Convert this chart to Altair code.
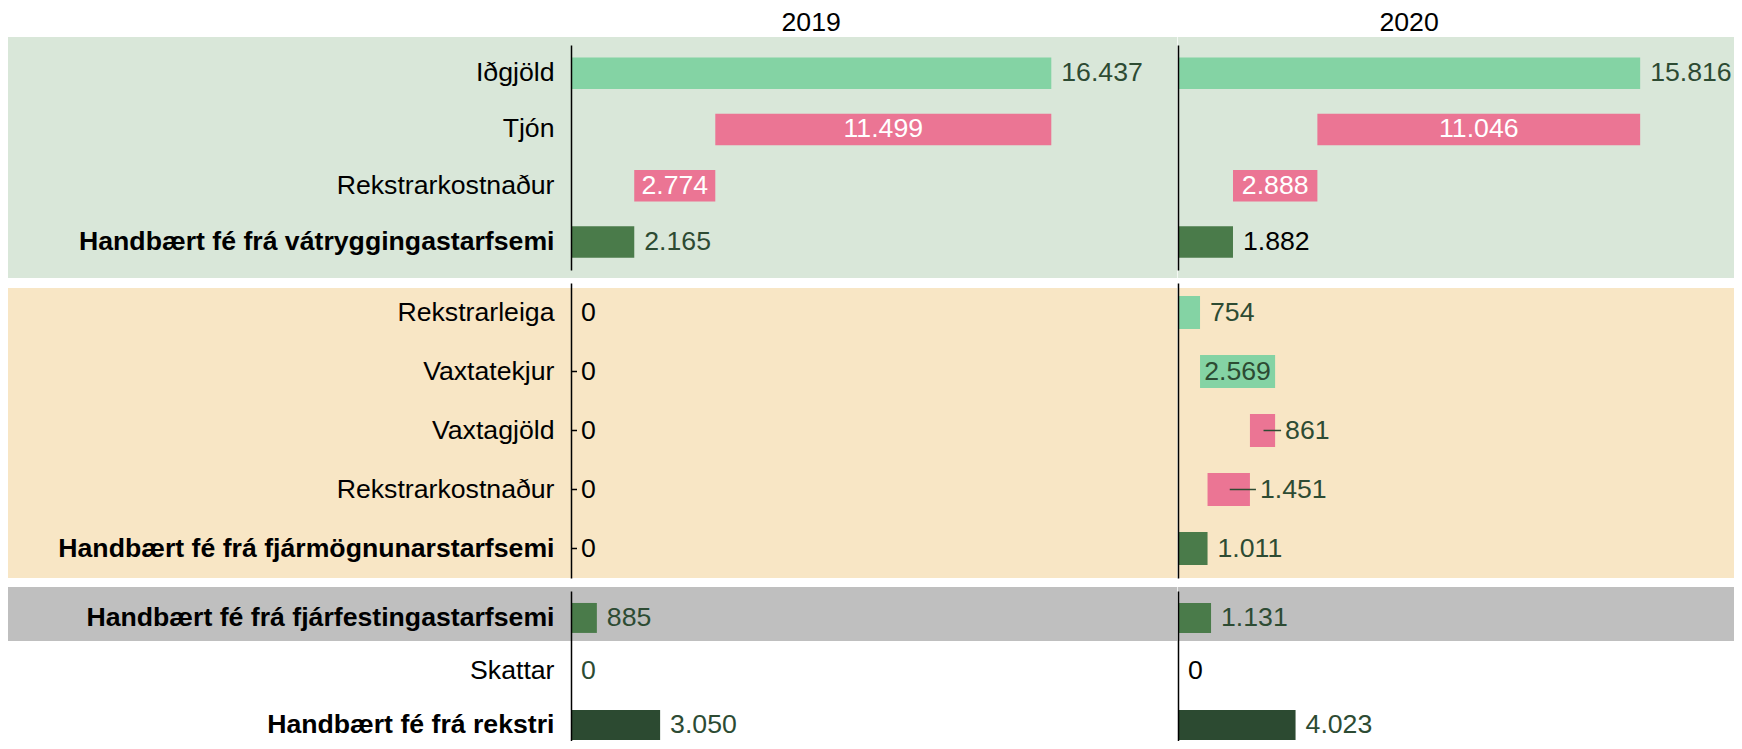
import altair as alt
import pandas as pd

# ---------------- data ----------------
ITEMS = [
    "Iðgjöld", "Tjón", "Rekstrarkostnaður", "Handbært fé frá vátryggingastarfsemi",
    "Rekstrarleiga", "Vaxtatekjur", "Vaxtagjöld", "Rekstrarkostnaður",
    "Handbært fé frá fjármögnunarstarfsemi",
    "Handbært fé frá fjárfestingastarfsemi", "Skattar", "Handbært fé frá rekstri",
]
GROUPS = [1, 1, 1, 1, 2, 2, 2, 2, 2, 3, 3, 3]
KINDS = ["inn", "út", "út", "sub", "inn", "inn", "út", "út", "sub", "sub", "út", "total"]
YEARS = ["2019", "2020"]
VALUES_2019 = [16437, 11499, 2774, 2165, 0, 0, 0, 0, 0, 885, 0, 3050]
VALUES_2020 = [15816, 11046, 2888, 1882, 754, 2569, 861, 1451, 1011, 1131, 0, 4023]
LABEL_POS_2019 = ["out", "in", "in", "out", "out", "lead", "lead", "lead", "lead", "out", "out", "out"]
LABEL_POS_2020 = ["out", "in", "in", "out", "out", "in", "lead", "lead", "out", "out", "out", "out"]
LABEL_TONE_2019 = ["dark", "white", "white", "dark", "black", "black", "black", "black", "black", "dark", "dark", "dark"]
LABEL_TONE_2020 = ["dark", "white", "white", "black", "dark", "dark", "dark", "dark", "dark", "dark", "black", "dark"]

VALUES = {"2019": VALUES_2019, "2020": VALUES_2020}
LABEL_POS = {"2019": LABEL_POS_2019, "2020": LABEL_POS_2020}
LABEL_TONE = {"2019": LABEL_TONE_2019, "2020": LABEL_TONE_2020}

recs = []
for year in YEARS:
    cum = 0
    for item, g, kind, v, pos, tone in zip(ITEMS, GROUPS, KINDS, VALUES[year],
                                            LABEL_POS[year], LABEL_TONE[year]):
        if kind in ("sub", "total"):
            s, e = 0, v
            cum = 0
        elif kind == "inn":
            s, e = cum, cum + v
            cum = e
        else:
            s, e = cum, cum - v
            cum = e
        recs.append(dict(year=year, grp=g, item=item, kind=kind, value=v,
                         start=s, end=e, lo=min(s, e), hi=max(s, e), mid=(s + e) / 2,
                         label=f"{v:,}".replace(",", "."), pos=pos, tone=tone))
df = pd.DataFrame(recs)

# ---------------- styling ----------------
FS = 26.67
FONT = "Liberation Sans"
PX_PER_UNIT = 480.3 / 16437
XMAX = {y: float(df[df.year == y].hi.max()) for y in YEARS}
WIDTH = {y: XMAX[y] * PX_PER_UNIT for y in YEARS}
HEIGHT = {1: 225, 2: 295, 3: 150}
YSCALE = {
    1: dict(paddingInner=0.44, paddingOuter=0.22),
    2: dict(paddingInner=0.44, paddingOuter=0.22),
    3: dict(paddingInner=0.44, paddingOuter=0.1215, align=0.92),
}
BAND = {  # colour, top, bottom (relative to panel)
    1: ("#D9E7D9", -8, HEIGHT[1] + 8),
    2: ("#F8E6C5", 5, HEIGHT[2]),
    3: ("#BFBFBF", -4, 50),
}
KIND_SCALE = alt.Scale(domain=["inn", "út", "sub", "total"],
                       range=["#84D3A4", "#EB7594", "#4A7B4A", "#2C4A31"])
TONE_SCALE = alt.Scale(domain=["dark", "white", "black"],
                       range=["#2D4B33", "#FFFFFF", "#000000"])

LABEL_AXIS = alt.Axis(
    title=None, labelFontSize=FS, labelColor="black", labelPadding=17, labelFont=FONT,
    ticks=False, domain=True, domainColor="black", domainWidth=1.5, labelLimit=1000,
    zindex=1,
    labelFontWeight={"condition": {"test": "indexof(datum.label, 'Handbært') === 0",
                                   "value": "bold"}, "value": "normal"},
)
PLAIN_AXIS = alt.Axis(title=None, labels=False, ticks=False, domain=True,
                      domainColor="black", domainWidth=1.5, zindex=1)


def panel(year, g):
    d = df[(df.year == year) & (df.grp == g)]
    order = list(d.item)
    W, H = WIDTH[year], HEIGHT[g]
    xs = alt.Scale(domain=[0, XMAX[year]], nice=False, zero=True)
    ys = alt.Scale(domain=order, **YSCALE[g])
    yenc = alt.Y("item:N", scale=ys, sort=order,
                 axis=LABEL_AXIS if year == YEARS[0] else PLAIN_AXIS)
    base = alt.Chart(d)
    layers = []

    col, top, bottom = BAND[g]
    x0 = -563 if year == YEARS[0] else 0
    x1 = W + 126 if year == YEARS[0] else 556
    layers.append(
        alt.Chart(pd.DataFrame({"grp": [g]})).mark_rect(color=col).encode(
            x=alt.value(x0), x2=alt.value(x1), y=alt.value(top), y2=alt.value(bottom))
    )

    layers.append(base.mark_bar().encode(
        x=alt.X("start:Q", scale=xs, axis=None), x2="end:Q", y=yenc,
        color=alt.Color("kind:N", scale=KIND_SCALE, legend=None)))

    layers.append(base.transform_filter("datum.pos === 'lead'").mark_rule(
        strokeWidth=1.5, x2Offset=6, xOffset=1).encode(
        x=alt.X("mid:Q", scale=xs, axis=None), x2="hi:Q", y=yenc,
        color=alt.Color("tone:N", scale=TONE_SCALE, legend=None)))

    layers.append(base.transform_filter("datum.pos !== 'in'").mark_text(
        align="left", dx=10, fontSize=FS, font=FONT).encode(
        x=alt.X("hi:Q", scale=xs, axis=None), y=yenc, text="label:N",
        color=alt.Color("tone:N", scale=TONE_SCALE, legend=None)))

    layers.append(base.transform_filter("datum.pos === 'in'").mark_text(
        align="center", fontSize=FS, font=FONT).encode(
        x=alt.X("mid:Q", scale=xs, axis=None), y=yenc, text="label:N",
        color=alt.Color("tone:N", scale=TONE_SCALE, legend=None)))

    if g == 1:
        strip = pd.DataFrame({"year": [year]})
        layers.append(alt.Chart(strip).mark_text(
            fontSize=FS, font=FONT, baseline="alphabetic", align="center", color="black").encode(
            x=alt.value(W / 2), y=alt.value(-14), text="year:N"))
        layers.append(alt.Chart(strip).mark_rule(opacity=0).encode(
            x=alt.value(0), x2=alt.value(1), y=alt.value(-37), y2=alt.value(-37)))

    return alt.layer(*layers).resolve_scale(color="independent").properties(width=W, height=H)


panels = [panel(year, g) for g in (1, 2, 3) for year in YEARS]
chart = (
    alt.concat(*panels, columns=2, spacing={"row": 13, "column": 126}, bounds="flush")
    .resolve_scale(x="independent", y="independent", color="independent")
    .properties(padding=0, background="white")
    .configure(font=FONT)
    .configure_view(stroke=None)
)
chart.save("out.html", embed_options={"renderer": "svg", "actions": False})
